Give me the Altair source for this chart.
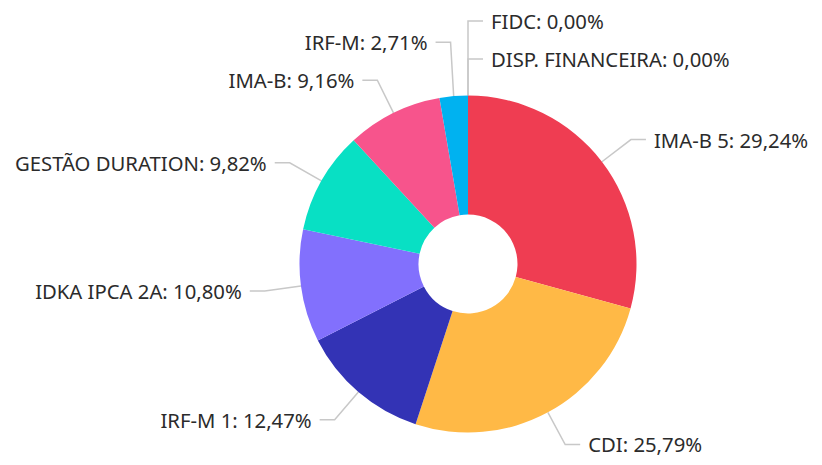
import math
import altair as alt
import pandas as pd

categories = ["IMA-B 5", "CDI", "IRF-M 1", "IDKA IPCA 2A", "GESTÃO DURATION",
              "IMA-B", "IRF-M", "DISP. FINANCEIRA", "FIDC"]
values = [29.24, 25.79, 12.47, 10.80, 9.82, 9.16, 2.71, 0.00, 0.00]
colors = ["#ef3d52", "#ffb946", "#3333b5", "#8270fd", "#08e0c4",
          "#f7548c", "#00b2f0", "#8c8c8c", "#4d4d4d"]

# layout (pixel) parameters
W, H = 806, 449
CX, CY = 468, 264
R_OUT, R_IN = 168.5, 49.5
BEND = 205
SEG2 = 15
GAP = 8
MIN_SEP = 38

slices = pd.DataFrame({"cat": categories, "value": values, "idx": range(len(values))})

total = sum(values)
info = []
cum = 0.0
for i, (c, v) in enumerate(zip(categories, values)):
    mid = ((cum + v / 2) / total) % 1.0
    cum += v
    a = 2 * math.pi * mid
    s, co = math.sin(a), math.cos(a)
    side = 1 if s >= -1e-9 else -1
    label = c + ": " + f"{v:.2f}".replace(".", ",") + "%"
    info.append(dict(idx=i, cat=c, label=label, side=side,
                     ex=CX + R_OUT * s, ey=CY - R_OUT * co,
                     bx=CX + BEND * s, by=CY - BEND * co))

# resolve label overlaps on each side (push upward)
for side in (1, -1):
    grp = sorted([d for d in info if d["side"] == side], key=lambda d: (-d["by"], d["idx"]))
    prev = None
    for d in grp:
        if prev is not None and d["by"] > prev - MIN_SEP:
            d["by"] = prev - MIN_SEP
        prev = d["by"]

line_rows = []
text_rows = []
for d in info:
    endx = d["bx"] + d["side"] * SEG2
    line_rows += [
        dict(idx=d["idx"], o=0, x=d["ex"], y=d["ey"]),
        dict(idx=d["idx"], o=1, x=d["bx"], y=d["by"]),
        dict(idx=d["idx"], o=2, x=endx, y=d["by"]),
    ]
    text_rows.append(dict(idx=d["idx"], label=d["label"], side=d["side"],
                          x=endx + d["side"] * GAP, y=d["by"]))
lines = pd.DataFrame(line_rows)
texts = pd.DataFrame(text_rows)

xs = alt.Scale(domain=[8, 8 + W])
ys = alt.Scale(domain=[8 + H, 8])

arcs = alt.Chart(slices).mark_arc(innerRadius=R_IN, outerRadius=R_OUT).encode(
    theta=alt.Theta("value:Q", stack=True),
    color=alt.Color("cat:N", scale=alt.Scale(domain=categories, range=colors), legend=None),
    order=alt.Order("idx:Q"),
    x=alt.value(CX - 8),
    y=alt.value(CY - 8),
)

leader = alt.Chart(lines).mark_line(color="#c8c8c8", strokeWidth=1.5).encode(
    x=alt.X("x:Q", scale=xs, axis=None),
    y=alt.Y("y:Q", scale=ys, axis=None),
    detail="idx:N",
    order="o:Q",
)

font = dict(font="Noto Sans", fontSize=20.3, color="#2b2b2b", baseline="middle", dy=2)
right = alt.Chart(texts).transform_filter("datum.side > 0").mark_text(align="left", **font).encode(
    x=alt.X("x:Q", scale=xs, axis=None), y=alt.Y("y:Q", scale=ys, axis=None), text="label:N")
left = alt.Chart(texts).transform_filter("datum.side < 0").mark_text(align="right", **font).encode(
    x=alt.X("x:Q", scale=xs, axis=None), y=alt.Y("y:Q", scale=ys, axis=None), text="label:N")

chart = alt.layer(leader, arcs, right, left).properties(
    width=W, height=H, padding=0, autosize="none"
).configure_view(stroke=None)

chart.save("out.html", embed_options={"renderer": "svg", "actions": False})
